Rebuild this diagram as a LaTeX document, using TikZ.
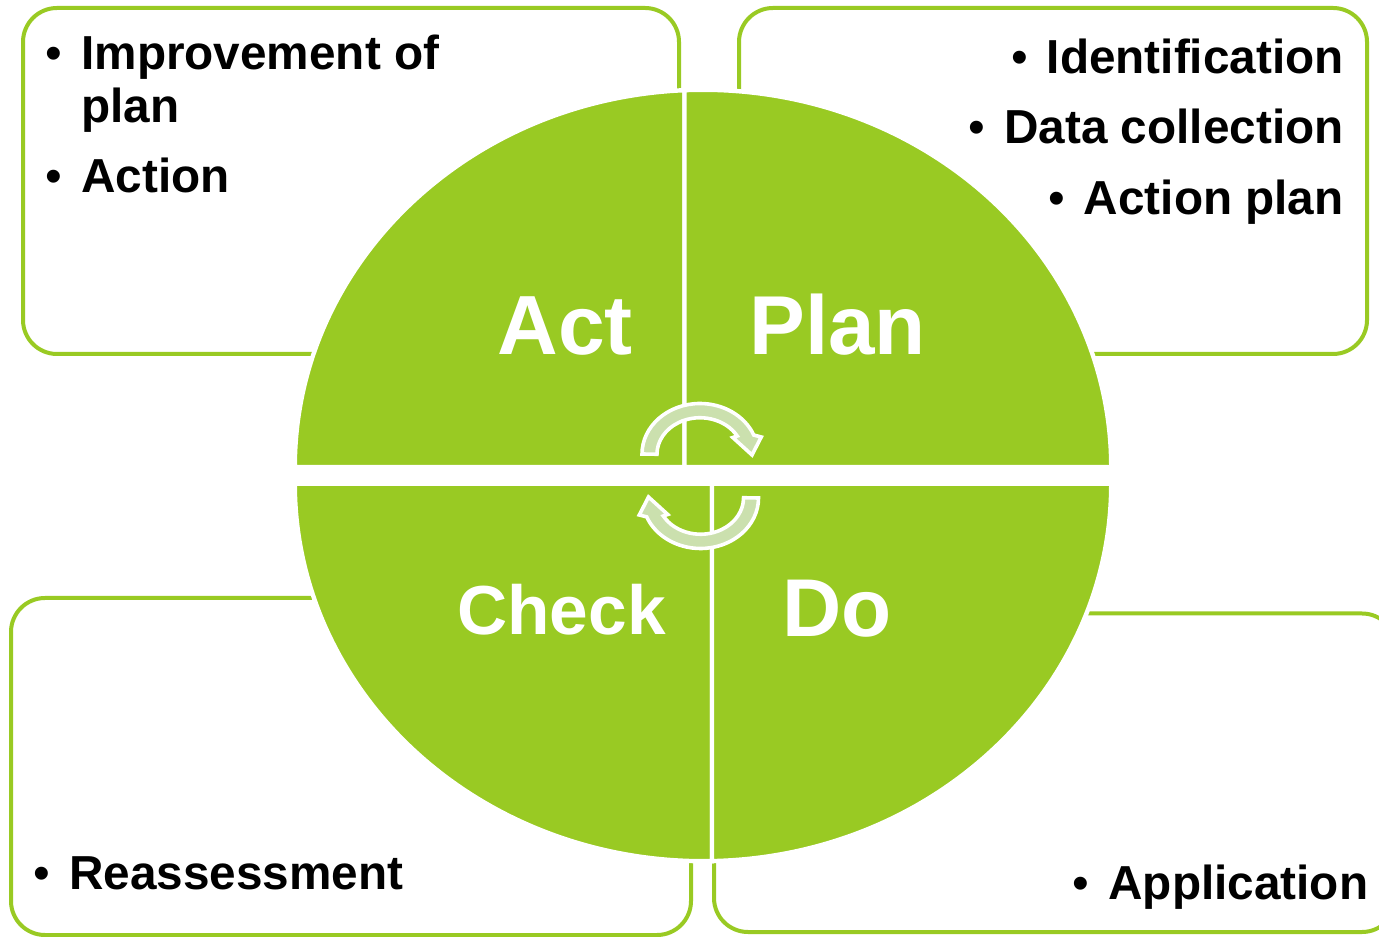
\documentclass[tikz,border=0pt]{standalone}
\usepackage{fontspec}
\setmainfont{Liberation Sans}
\definecolor{leaf}{HTML}{99CA23}
\definecolor{paleleaf}{HTML}{CBE0AE}
\newcommand{\bulitem}[1]{\makebox[17pt][l]{\hspace{-0.8pt}\textmd{\textbullet}}#1}

\begin{document}
\begin{tikzpicture}[x=0.5pt,y=0.5pt]
	\tikzset{panel/.style = {draw=leaf, line width=2pt, rounded corners=17pt}}
	\tikzset{sector/.style = {fill=leaf, draw=white, line width=2.2pt}}
	\tikzset{turn/.style = {fill=paleleaf, draw=white, line width=1.8pt, line join=miter}}
	\tikzset{bigword/.style = {inner sep=0pt, text=white, font=\bfseries}}
	\tikzset{itemword/.style = {inner sep=0pt, align=left, font=\fontsize{23.85}{26.5}\selectfont\bfseries}}
	\tikzset{pics/cyclearrow/.style = {code = {
		\draw[turn] (-58.25,22) arc[start angle=180, end angle=22, x radius=58, y radius=50.5]
			-- (61,39) -- (51.75,21) -- (32.5,38.5)
			-- (36.95,40) arc[start angle=30, end angle=180, x radius=43, y radius=36.5] -- cycle;
	}}}
	\clip (0,0) rectangle (1379,936);

	% boxes behind the disc
	\draw[panel] (23,928) rectangle (679,582);
	\draw[panel] (739,928) rectangle (1367,582);
	\draw[panel] (11,338) rectangle (691,1);
	\draw[panel] (714,322.5) rectangle (1396,4);

	% the four quarters
	\draw[sector] (684.5,468.8) -- (294.8,468.8) arc[start angle=180, end angle=92.6, x radius=408.2, y radius=377.4] -- cycle;
	\draw[sector] (684.5,468.8) -- (1111.2,468.8) arc[start angle=0, end angle=92.6, x radius=408.2, y radius=377.4] -- cycle;
	\draw[sector] (712,452.2) -- (294.8,452.2) arc[start angle=180, end angle=271.26, x radius=408.2, y radius=377.4] -- cycle;
	\draw[sector] (712,452.2) -- (1111.2,452.2) arc[start angle=0, end angle=-88.74, x radius=408.2, y radius=377.4] -- cycle;

	\pic at (700.25,460) {cyclearrow};
	\pic[rotate=180] at (700.25,460) {cyclearrow};

	\node[bigword, anchor=base west, font=\fontsize{42}{44}\selectfont\bfseries] (ACT) at (497,581) {Act};
	\node[bigword, anchor=base west, font=\fontsize{41.8}{44}\selectfont\bfseries] (PLAN) at (749,581) {Plan};
	\node[bigword, anchor=base west, font=\fontsize{34.7}{38}\selectfont\bfseries] (CHECK) at (457,301) {Check};
	\node[bigword, anchor=base west, font=\fontsize{41}{44}\selectfont\bfseries] (DO) at (782,299) {Do};

	\node[itemword, anchor=base west] (IMPROVE) at (47,866) {\bulitem{Improvement of}};
	\node[itemword, anchor=base west] (PLANWORD) at (81,813.5) {plan};
	\node[itemword, anchor=base west] (ACTION) at (47,743) {\bulitem{Action}};

	\node[itemword, anchor=base east] (IDENT) at (1344,862.5) {\bulitem{Identification}};
	\node[itemword, anchor=base east] (DATA) at (1344,792.5) {\bulitem{Data collection}};
	\node[itemword, anchor=base east] (ACTPLAN) at (1344,721.5) {\bulitem{Action plan}};

	\node[itemword, anchor=base west] (REASSESS) at (35,47) {\bulitem{Reassessment}};
	\node[itemword, anchor=base east] (APPLY) at (1368.5,37) {\bulitem{Application}};
\end{tikzpicture}
\end{document}
